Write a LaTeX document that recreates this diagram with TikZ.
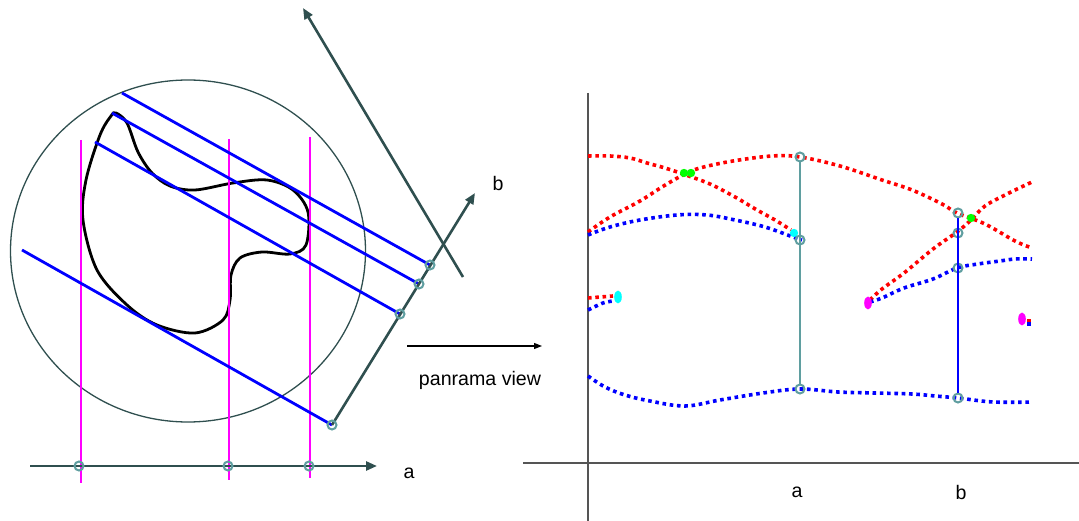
\documentclass[tikz,border=0pt]{standalone}
\usepackage{fontspec}
\setmainfont{Liberation Sans}
\usetikzlibrary{arrows.meta, positioning}
\definecolor{axisgray}{HTML}{2F4F4F}
\definecolor{ringteal}{HTML}{5F9EA0}
\definecolor{framegray}{HTML}{555555}
\definecolor{slicemag}{HTML}{FF00FF}
\definecolor{markcyan}{HTML}{00FFFF}
\definecolor{markgreen}{HTML}{00FF00}

\begin{document}
\begin{tikzpicture}[x=1pt, y=-1pt,
    axis/.style={draw=axisgray, line width=2.6pt, -{Triangle[length=11pt, width=9pt]}},
    ray/.style={draw=blue, line width=2.8pt},
    slice/.style={draw=slicemag, line width=2.6pt},
    probe/.style={circle, draw=ringteal, line width=2pt, minimum size=9pt, inner sep=0pt},
    reddots/.style={draw=red, line width=3.6pt, dash pattern=on 3.6pt off 3.7pt},
    bluedots/.style={draw=blue, line width=3.6pt, dash pattern=on 3.6pt off 3.7pt},
    frame/.style={draw=framegray, line width=1.6pt},
    lbl/.style={font=\fontsize{19.6}{22}\selectfont, inner sep=0pt}
]
\useasboundingbox (0,0) rectangle (1079,521);

% left: scene
\draw[axisgray, line width=1.3pt] (188,251) ellipse [x radius=177.5, y radius=171];
\draw[black, line width=2.8pt] plot[smooth cycle, tension=0.55] coordinates {
  (116,113) (127,123) (138,152) (152,173) (170,186) (195,190) (233,183) (267,180)
  (293,190) (308,212) (306,245) (290,254) (262,252) (240,258) (231,275) (230,300)
  (223,320) (195,333) (157,325) (127,305) (97,270) (83,220) (86,180) (100,135) (111,116)};

% slices
\coordinate (s1top) at (81,140);  \coordinate (s1bot) at (81,483);
\coordinate (s2top) at (229,139); \coordinate (s2bot) at (229,480);
\coordinate (s3top) at (310,137); \coordinate (s3bot) at (310,478);
\draw[slice] (s1top) -- (s1bot);
\draw[slice] (s2top) -- (s2bot);
\draw[slice] (s3top) -- (s3bot);

% rays
\coordinate (r0) at (22,250);
\coordinate (r1) at (95,142);
\coordinate (r2) at (112,113);
\coordinate (r3) at (122,93);
\coordinate (b0) at (332,425);
\coordinate (b1) at (400,314);
\coordinate (b2) at (419,284);
\coordinate (b3) at (430,265);
\draw[ray] (r0) -- (b0);
\draw[ray] (r1) -- (b1);
\draw[ray] (r2) -- (b2);
\draw[ray] (r3) -- (b3);

% axes
\coordinate (astart) at (30,466);
\coordinate (aend) at (377,466);
\coordinate (bend) at (475,193);
\coordinate (nstart) at (463,277);
\coordinate (nend) at (303,8);
\draw[axis] (astart) -- (aend);
\draw[axis] (b0) -- (bend);
\draw[axis] (nstart) -- (nend);

\node[lbl] (la) at (409,473) {a};
\node[lbl] (lb) at (498,183) {b};

\foreach \p in {b0,b1,b2,b3} \node[probe] at (\p) {};
\node[probe] (pa1) at (79,466) {};
\node[probe] (pa2) at (228,466) {};
\node[probe] (pa3) at (309,466) {};

% panorama
\coordinate (pstart) at (407,346);
\coordinate (pend) at (542,346);
\draw[black, line width=1.3pt, -{Triangle[length=8pt, width=6pt]}] (pstart) -- (pend);
\node[lbl] (pv) at (480,380) {panrama view};

% right: panorama view
\coordinate (vtop) at (588,93);
\coordinate (vbot) at (588,521);
\coordinate (hleft) at (523,463);
\coordinate (hright) at (1079,463);
\draw[frame] (vtop) -- (vbot);
\draw[frame] (hleft) -- (hright);

\draw[reddots] plot[smooth, tension=0.6] coordinates {
  (588,156) (610,156) (630,158) (647,163) (665,168) (683,174) (710,184) (735,197)
  (757,210) (775,220) (791,230)};
\draw[reddots] plot[smooth, tension=0.6] coordinates {
  (588,232) (610,217) (640,201) (662,187) (683,175) (700,168) (733,161) (772,156)
  (800,157) (840,166) (882,180) (912,190) (942,204) (957,213) (985,224) (1015,241) (1032,248)};
\draw[reddots] plot[smooth, tension=0.6] coordinates {
  (870,300) (882,289) (904,273) (933,249) (957,232) (971,220) (985,206) (1007,194) (1032,182)};
\draw[bluedots] plot[smooth, tension=0.6] coordinates {
  (588,235) (610,227) (640,220) (677,215) (707,215) (735,220) (765,227) (793,237) (802,240)};
\draw[bluedots] plot[smooth, tension=0.6] coordinates {
  (870,302) (882,298) (904,288) (933,279) (957,268) (978,264) (1000,261) (1015,259) (1032,259)};
\draw[bluedots] plot[smooth, tension=0.6] coordinates {
  (588,376) (605,387) (625,395) (650,401) (685,406) (720,400) (763,393) (800,389)
  (838,392) (875,393) (912,394) (935,396) (958,398) (993,402) (1032,402)};
\draw[reddots] (588,298) -- (613,296);
\draw[bluedots] plot[smooth] coordinates {(588,310) (603,303) (613,301)};
\fill[red] (1027,319) rectangle (1031,322.5);
\fill[blue] (1027,322.5) rectangle (1031,326);

\fill[slicemag] (868,303) ellipse [x radius=3.8, y radius=6.5];
\fill[slicemag] (1022,319) ellipse [x radius=3.8, y radius=6.5];
\fill[markcyan] (618,297) ellipse [x radius=3.8, y radius=6.5];
\fill[markcyan] (794,233) circle [radius=4.2];
\fill[markgreen] (684,173) circle [radius=4.2];
\fill[markgreen] (691,173) circle [radius=4.2];
\fill[markgreen] (971,218) circle [radius=4.2];

\node[probe] (qa1) at (800,157) {};
\node[probe] (qa2) at (800,240) {};
\node[probe] (qa3) at (800,389) {};
\node[probe] (qb1) at (958,213) {};
\node[probe] (qb2) at (958,233) {};
\node[probe] (qb3) at (958,268) {};
\node[probe] (qb4) at (958,398) {};
\draw[ringteal, line width=2.2pt] (qa1) -- (qa3);
\draw[blue, line width=2.6pt] (qb1) -- (qb4);

\node[lbl] (ra) at (797,492) {a};
\node[lbl] (rb) at (961,492) {b};

\end{tikzpicture}
\end{document}
